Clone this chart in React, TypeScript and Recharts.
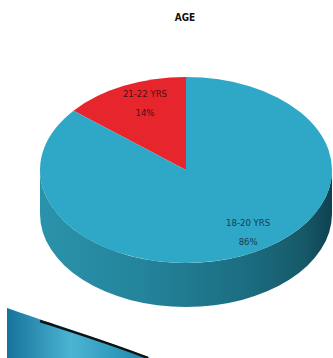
import { PieChart, Pie, Cell } from "recharts";

const categories = ["21-22 YRS", "18-20 YRS"];
const shares = [14, 86];
const sliceColors = ["#e6252d", "#2ea8c6"];

const data = categories.map((name, i) => ({ name, value: shares[i] }));

const W = 333;
const H = 358;
const CX = 186;
const CY = 170;
const R = 146;
const TILT = 0.637; // vertical squash of the top face
const DEPTH = 44;
// label placement as fraction of radius (x, y) for each slice
const labelPos = [
  [0.66, 0.8],
  [1.0, 0.74],
];

const FONT = "'Liberation Sans Narrow', 'DejaVu Sans Condensed', 'Arial Narrow', sans-serif";

const rad = (d: number) => (d * Math.PI) / 180;
const pt = (cx: number, cy: number, r: number, deg: number, dy = 0) =>
  `${cx + r * Math.cos(rad(deg))},${cy - r * TILT * Math.sin(rad(deg)) + dy}`;

function Slice3D(props: any) {
  const { cx, cy, outerRadius: r, fill } = props;
  const s = Math.min(props.startAngle, props.endAngle);
  const e = Math.max(props.startAngle, props.endAngle);
  const ry = r * TILT;
  const span = e - s;
  const idx = sliceColors.indexOf(fill);
  const gid = `side-${idx}`;
  const top = `M${cx},${cy} L${pt(cx, cy, r, s)} A${r},${ry} 0 ${span > 180 ? 1 : 0} 0 ${pt(cx, cy, r, e)} Z`;

  // front part of the rim (where the side shows)
  const walls: string[] = [];
  for (const [a, b] of [
    [180, 360],
    [540, 720],
  ]) {
    const a1 = Math.max(a, s);
    const a2 = Math.min(b, e);
    if (a2 > a1) {
      const big = a2 - a1 > 180 ? 1 : 0;
      walls.push(
        `M${pt(cx, cy, r, a1)} A${r},${ry} 0 ${big} 0 ${pt(cx, cy, r, a2)} L${pt(cx, cy, r, a2, DEPTH)} A${r},${ry} 0 ${big} 1 ${pt(cx, cy, r, a1, DEPTH)} Z`
      );
    }
  }

  const stops =
    idx === 0
      ? [
          ["0", "#a3121a"],
          ["0.5", "#b8161f"],
          ["1", "#6e0b10"],
        ]
      : [
          ["0", "#2b92ab"],
          ["0.35", "#23849b"],
          ["0.7", "#1c6d81"],
          ["0.9", "#165a6a"],
          ["1", "#0f4150"],
        ];

  return (
    <g>
      <defs>
        <linearGradient id={gid} gradientUnits="userSpaceOnUse" x1={cx - r} y1={0} x2={cx + r} y2={0}>
          {stops.map(([o, c]) => (
            <stop key={o} offset={o} stopColor={c} />
          ))}
        </linearGradient>
      </defs>
      {walls.map((d, i) => (
        <path key={i} d={d} fill={`url(#${gid})`} />
      ))}
      <path d={top} fill={fill} />
    </g>
  );
}

function SliceLabel(props: any) {
  const { cx, cy, midAngle, outerRadius: r, name, value } = props;
  const i = categories.indexOf(name);
  const [fx, fy] = labelPos[i];
  const x = cx + r * fx * Math.cos(rad(midAngle));
  const y = cy - r * TILT * fy * Math.sin(rad(midAngle));
  const color = i === 0 ? "#4a1214" : "#173c55";
  return (
    <text x={x} y={y} textAnchor="middle" fontFamily={FONT} fontSize={9.5} fill={color}>
      <tspan x={x} dy={-6}>
        {name}
      </tspan>
      <tspan x={x} dy={19}>
        {value}%
      </tspan>
    </text>
  );
}

export default function App() {
  return (
    <div style={{ position: "absolute", left: 0, top: 0, width: W, height: H, background: "#fff", overflow: "hidden" }}>
      <svg width={W} height={H} style={{ position: "absolute", left: 0, top: 0 }}>
        <defs>
          <linearGradient id="swoosh" x1="0" y1="0" x2="1" y2="0">
            <stop offset="0" stopColor="#16739a" />
            <stop offset="0.45" stopColor="#4cb4d3" />
            <stop offset="1" stopColor="#1a86ad" />
          </linearGradient>
        </defs>
        <path d="M7,308 C40,320 100,338 150,358 L7,358 Z" fill="url(#swoosh)" />
        <path d="M40,321 C80,334 115,345 148,358" stroke="#111" strokeWidth={2.5} fill="none" />
      </svg>
      <div style={{ position: "absolute", left: 0, top: 0 }}>
        <PieChart width={W} height={H} margin={{ top: 0, right: 0, bottom: 0, left: 0 }}>
          <text x={185} y={21} textAnchor="middle" fontFamily={FONT} fontWeight="bold" fontSize={10} fill="#111">
            AGE
          </text>
          <Pie
            data={data}
            dataKey="value"
            nameKey="name"
            cx={CX}
            cy={CY}
            outerRadius={R}
            startAngle={90}
            endAngle={450}
            stroke="none"
            shape={Slice3D}
            label={SliceLabel}
            labelLine={false}
            isAnimationActive={false}
          >
            {data.map((d, i) => (
              <Cell key={d.name} fill={sliceColors[i]} />
            ))}
          </Pie>
        </PieChart>
      </div>
    </div>
  );
}
